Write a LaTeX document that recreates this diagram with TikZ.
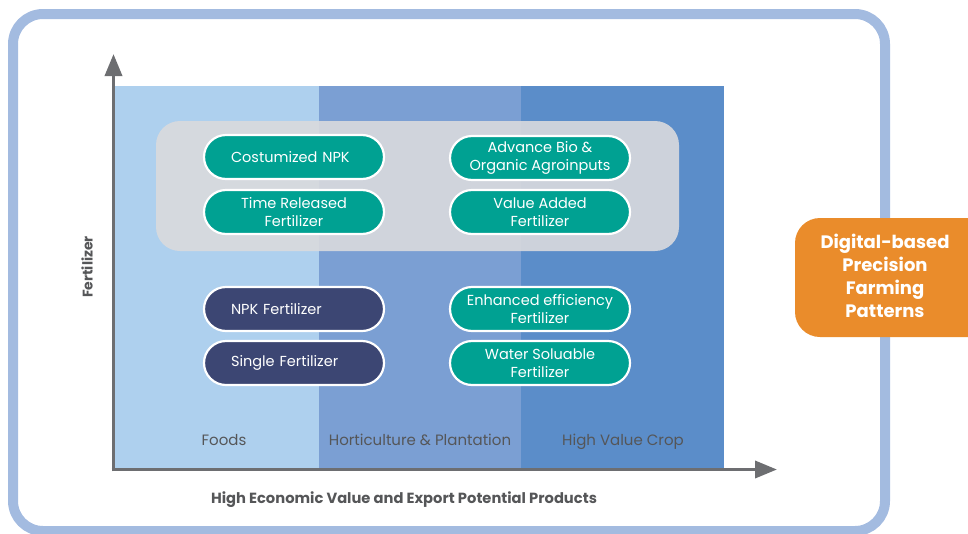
\documentclass[tikz,border=0pt]{standalone}
\usepackage{fontspec}
\setmainfont{Poppins}
\usetikzlibrary{arrows.meta}
\definecolor{framec}{HTML}{A3BBE0}
\definecolor{colA}{HTML}{AED0EE}
\definecolor{colB}{HTML}{7B9FD3}
\definecolor{colC}{HTML}{5B8DC9}
\definecolor{panelc}{HTML}{DADADD}
\definecolor{tealc}{HTML}{00A192}
\definecolor{navyc}{HTML}{3C4673}
\definecolor{axisc}{HTML}{6D6E71}
\definecolor{orangec}{HTML}{EA8C2B}
\definecolor{labc}{HTML}{555658}
\tikzset{
  pill/.style={draw=white, line width=2.2pt, rounded corners=22pt, minimum width=180pt, minimum height=44pt,
    text=white, align=center, font=\fontsize{14.5}{18}\selectfont, inner sep=0pt},
  tealpill/.style={pill, fill=tealc},
  navypill/.style={pill, fill=navyc},
  lefttext/.style={text width=126pt, align=left},
  axisline/.style={draw=axisc, line width=3.6pt, -{Triangle[length=22pt,width=17pt]}},
  collabel/.style={text=labc, font=\fontsize{15}{18}\selectfont, anchor=base},
}
\begin{document}
\begin{tikzpicture}[x=1pt,y=-1pt]
\useasboundingbox (0,0) rectangle (968,533);
% frame
\draw[framec, line width=10pt, rounded corners=30pt] (13,14) rectangle (885,531);
% columns
\fill[colA] (115,86) rectangle (319,468);
\fill[colB] (319,86) rectangle (521,468);
\fill[colC] (521,86) rectangle (724,468);
% grey panel
\fill[panelc, fill opacity=0.9, rounded corners=24pt] (156,121) rectangle (679,251);
% pills
\node[tealpill, lefttext] (cnpk) at (294,157) {Costumized NPK};
\node[tealpill] (trf) at (294,212) {Time Released\\Fertilizer};
\node[tealpill] (abio) at (540,158) {Advance Bio \&\\Organic Agroinputs};
\node[tealpill] (vaf) at (540,212) {Value Added\\Fertilizer};
\node[navypill, lefttext] (npk) at (294,309) {NPK Fertilizer};
\node[navypill, lefttext] (sf) at (294,363) {Single Fertilizer};
\node[tealpill] (eef) at (540,309) {Enhanced efficiency\\Fertilizer};
\node[tealpill] (wsf) at (540,363) {Water Soluable\\Fertilizer};
% column labels
\node[collabel] (foods) at (224,445) {Foods};
\node[collabel] (hort) at (420,445) {Horticulture \& Plantation};
\node[collabel] (hvc) at (623,445) {High Value Crop};
% axes
\coordinate (origin) at (113.5,469.5);
\coordinate (ytip) at (113.5,54);
\coordinate (xtip) at (777,469.5);
\draw[axisline] (113.5,471.3) -- (ytip);
\draw[axisline] (111.7,469.5) -- (xtip);
% axis labels
\node[text=labc, font=\bfseries\fontsize{14}{17}\selectfont, rotate=90] (ylab) at (87,267) {Fertilizer};
\node[text=labc, font=\bfseries\fontsize{14.7}{17}\selectfont] (xlab) at (404,500) {High Economic Value and Export Potential Products};
% orange box
\fill[orangec, rounded corners=25pt] (795,218) rectangle (1000,337);
\node[text=white, align=center, font=\bfseries\fontsize{18}{23}\selectfont] (dig) at (885,276) {Digital-based\\Precision\\Farming\\Patterns};
\end{tikzpicture}
\end{document}
